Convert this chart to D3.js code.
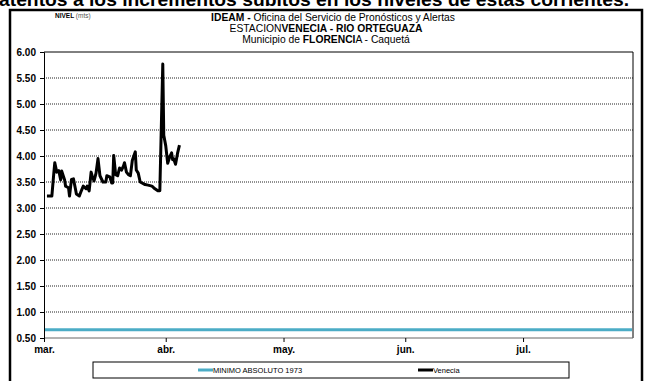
<!DOCTYPE html>
<html><head><meta charset="utf-8">
<script src="https://cdn.jsdelivr.net/npm/d3@7"></script>
<style>body{margin:0;background:#fff;overflow:hidden}svg{display:block}</style>
</head><body>
<svg id="c" width="645" height="381"></svg>
<script>
const yTicks = [0.5,1.0,1.5,2.0,2.5,3.0,3.5,4.0,4.5,5.0,5.5,6.0];
const monthTicks = ["2014-03-01","2014-04-01","2014-05-01","2014-06-01","2014-07-01"];
const monthLabels = ["mar.","abr.","may.","jun.","jul."];
const xDomain = ["2014-03-01T00:00","2014-07-29T00:00"];
const minimoValue = 0.66;
const venDates = ["2014-03-01T18:00","2014-03-03T00:00","2014-03-03T12:00","2014-03-03T18:00","2014-03-04T06:00","2014-03-04T18:00","2014-03-05T00:00","2014-03-05T06:00","2014-03-05T12:00","2014-03-06T06:00","2014-03-06T12:00","2014-03-07T06:00","2014-03-07T12:00","2014-03-08T00:00","2014-03-08T12:00","2014-03-09T00:00","2014-03-09T06:00","2014-03-10T00:00","2014-03-10T12:00","2014-03-11T00:00","2014-03-11T18:00","2014-03-12T00:00","2014-03-12T12:00","2014-03-13T00:00","2014-03-13T06:00","2014-03-13T18:00","2014-03-14T06:00","2014-03-14T18:00","2014-03-15T06:00","2014-03-16T00:00","2014-03-16T18:00","2014-03-17T00:00","2014-03-17T18:00","2014-03-18T06:00","2014-03-18T12:00","2014-03-18T18:00","2014-03-19T06:00","2014-03-19T18:00","2014-03-20T06:00","2014-03-20T18:00","2014-03-21T06:00","2014-03-21T12:00","2014-03-22T00:00","2014-03-22T12:00","2014-03-23T00:00","2014-03-23T12:00","2014-03-24T06:00","2014-03-24T12:00","2014-03-25T00:00","2014-03-25T12:00","2014-03-26T18:00","2014-03-27T12:00","2014-03-28T12:00","2014-03-29T06:00","2014-03-30T00:00","2014-03-30T12:00","2014-03-31T06:00","2014-03-31T12:00","2014-04-01T00:00","2014-04-01T12:00","2014-04-02T00:00","2014-04-02T12:00","2014-04-02T18:00","2014-04-03T00:00","2014-04-03T12:00","2014-04-04T00:00","2014-04-04T12:00"];
const venValues = [3.23,3.23,3.67,3.87,3.69,3.72,3.63,3.54,3.71,3.54,3.42,3.39,3.23,3.55,3.56,3.37,3.27,3.23,3.33,3.42,3.37,3.42,3.33,3.69,3.62,3.52,3.67,3.95,3.62,3.50,3.50,3.62,3.60,3.48,3.48,4.01,3.64,3.62,3.77,3.73,3.81,3.87,3.69,3.64,3.62,3.92,4.08,3.73,3.67,3.50,3.45,3.44,3.42,3.37,3.33,3.33,5.77,4.40,4.20,3.86,3.98,4.06,3.93,3.95,3.84,4.05,4.21];
const legendLabels = ["MINIMO ABSOLUTO 1973","Venecia"];

const parse = d3.utcParse("%Y-%m-%dT%H:%M");
const parseD = d3.utcParse("%Y-%m-%d");
const svg = d3.select("#c");
const L = 44, R = 633, T = 52, B = 338;
const x = d3.scaleUtc().domain(xDomain.map(parse)).range([L, R]);
const y = d3.scaleLinear().domain([0.5, 6]).range([B, T]);
const F = "'Liberation Sans', Arial, sans-serif";
const FN = "'Liberation Sans Narrow', 'Arial Narrow', 'Liberation Sans', Arial, sans-serif";

// text from the page above, partly cut off by the top edge
svg.append("text").attr("x", -1).attr("y", 6).attr("font-family", F).attr("font-weight", "bold")
  .attr("font-size", 19).attr("textLength", 630).attr("lengthAdjust", "spacingAndGlyphs")
  .text("atentos a los incrementos súbitos en los niveles de estas corrientes.");

// outer frame
svg.append("rect").attr("x", 10).attr("y", 10).attr("width", 632).attr("height", 380)
  .attr("fill", "#fff").attr("stroke", "#000").attr("stroke-width", 2.5);

// header
svg.append("text").attr("x", 55).attr("y", 18).attr("font-family", F).attr("font-size", 6.5)
  .call(t => { t.append("tspan").attr("font-weight", "bold").text("NIVEL "); t.append("tspan").attr("fill", "#555").text("(mts)"); });
const t1 = svg.append("text").attr("x", 333).attr("y", 20.5).attr("text-anchor", "middle").attr("font-family", FN).attr("font-size", 10.3);
t1.append("tspan").attr("font-weight", "bold").text("IDEAM - ");
t1.append("tspan").text("Oficina del Servicio de Pronósticos y Alertas");
const t2 = svg.append("text").attr("x", 326).attr("y", 31.5).attr("text-anchor", "middle").attr("font-family", FN).attr("font-size", 10.3);
t2.append("tspan").text("ESTACION");
t2.append("tspan").attr("font-weight", "bold").text("VENECIA - RIO ORTEGUAZA");
const t3 = svg.append("text").attr("x", 326).attr("y", 42.5).attr("text-anchor", "middle").attr("font-family", FN).attr("font-size", 10.3);
t3.append("tspan").text("Municipio de ");
t3.append("tspan").attr("font-weight", "bold").text("FLORENCI");
t3.append("tspan").text("A - Caquetá");

// gridlines
svg.append("g").selectAll("line").data(yTicks.filter(v => v > 0.5 && v < 6)).join("line")
  .attr("x1", L).attr("x2", R).attr("y1", d => y(d)).attr("y2", d => y(d))
  .attr("stroke", "#222").attr("stroke-width", 1).attr("stroke-dasharray", "1,1");

// plot border
svg.append("line").attr("x1", L).attr("x2", R).attr("y1", T).attr("y2", T).attr("stroke", "#000");
svg.append("line").attr("x1", R).attr("x2", R).attr("y1", T).attr("y2", B).attr("stroke", "#000");
svg.append("line").attr("x1", L).attr("x2", R).attr("y1", B).attr("y2", B).attr("stroke", "#666");

// y axis
const ya = svg.append("g").attr("transform", `translate(${L},0)`)
  .call(d3.axisLeft(y).tickValues(yTicks).tickFormat(d3.format(".2f")).tickSize(4).tickPadding(4));
ya.select(".domain").attr("stroke", "#000");
ya.selectAll("text").attr("font-family", F).attr("font-weight", "bold").attr("font-size", 10).attr("fill", "#000");

// x axis
const xa = svg.append("g").attr("transform", `translate(0,${B})`)
  .call(d3.axisBottom(x).tickValues(monthTicks.map(parseD)).tickFormat((d, i) => monthLabels[i]).tickSize(4).tickPadding(4));
xa.select(".domain").remove();
xa.selectAll("line").attr("stroke", "#000");
xa.selectAll("text").attr("font-family", F).attr("font-weight", "bold").attr("font-size", 10).attr("fill", "#000");

// minimo line
svg.append("line").attr("x1", L + 1).attr("x2", R - 1).attr("y1", y(minimoValue)).attr("y2", y(minimoValue))
  .attr("stroke", "#4BACC6").attr("stroke-width", 3);

// venecia
const data = venDates.map((d, i) => ({ d: parse(d), v: venValues[i] }));
svg.append("path").datum(data).attr("fill", "none").attr("stroke", "#000").attr("stroke-width", 3)
  .attr("stroke-linejoin", "round")
  .attr("d", d3.line().x(d => x(d.d)).y(d => y(d.v)));

// legend
svg.append("rect").attr("x", 93).attr("y", 362).attr("width", 476).attr("height", 16)
  .attr("fill", "#fff").attr("stroke", "#000").attr("stroke-width", 1);
const leg = [{ c: "#4BACC6", x: 198 }, { c: "#000", x: 418 }];
leg.forEach((l, i) => {
  svg.append("line").attr("x1", l.x).attr("x2", l.x + 15).attr("y1", 370).attr("y2", 370).attr("stroke", l.c).attr("stroke-width", 3);
  svg.append("text").attr("x", l.x + 15).attr("y", 372.5).attr("font-family", FN).attr("font-size", 7.5).text(legendLabels[i]);
});
</script>
</body></html>
